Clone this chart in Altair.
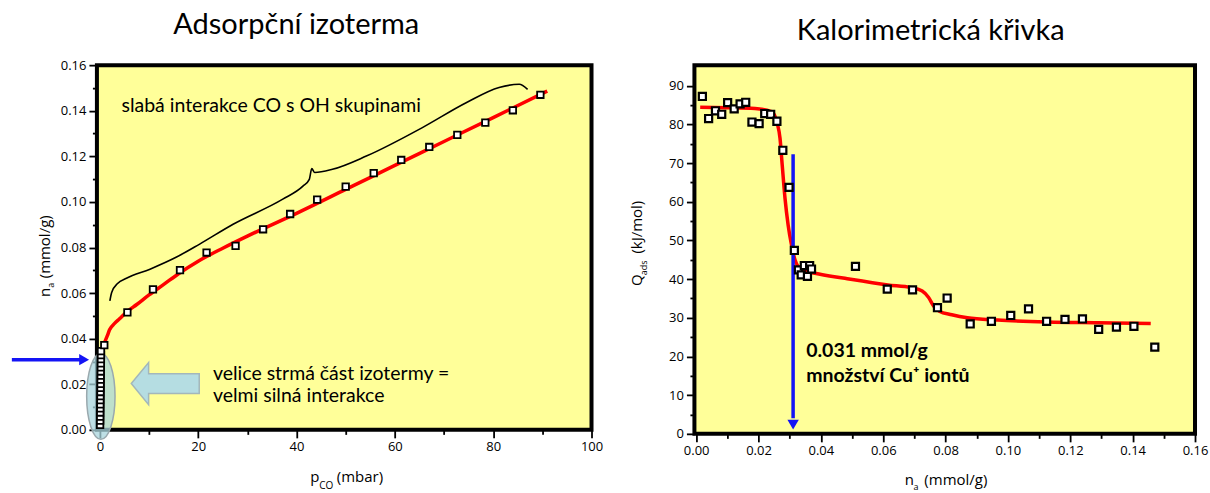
import altair as alt
import pandas as pd

# ---------------- Left panel: adsorption isotherm ----------------
iso_low_x = [0.05, 0.06, 0.07, 0.08, 0.09, 0.10, 0.11, 0.12, 0.13, 0.14,
             0.15, 0.16, 0.17, 0.18, 0.19, 0.20, 0.21, 0.22, 0.23]
iso_low_y = [0.0022, 0.0040, 0.0058, 0.0076, 0.0094, 0.0112, 0.0130, 0.0148,
             0.0166, 0.0184, 0.0202, 0.0220, 0.0238, 0.0256, 0.0274, 0.0292,
             0.0310, 0.0328, 0.0345]
iso_x = [0.9, 5.6, 10.8, 16.3, 21.7, 27.6, 33.2, 38.7, 44.2, 50.0, 55.7,
         61.3, 67.0, 72.7, 78.4, 84.0, 89.6]
iso_y = [0.0372, 0.0515, 0.0616, 0.0701, 0.0778, 0.0807, 0.0880, 0.0947,
         0.1010, 0.1067, 0.1126, 0.1184, 0.1241, 0.1294, 0.1348, 0.1402, 0.1470]
isofit_x = [0.5, 1.0, 1.5, 2.0, 3.0, 4.0, 5.5, 7.5, 10, 13, 16, 20, 25, 30,
            40, 50, 60, 70, 80, 91]
isofit_y = [0.0350, 0.0385, 0.0412, 0.0440, 0.0467, 0.0487, 0.0518, 0.0550,
            0.0592, 0.0638, 0.0685, 0.0740, 0.0797, 0.0850, 0.0950, 0.1055,
            0.1160, 0.1265, 0.1370, 0.1486]
brace_x = [2.03, 2.4, 3.6, 5.4, 10.2, 15.6, 20.3, 27.1, 37.2, 41.3, 42.6,
           43.1, 43.7, 47.3, 54.2, 65.6, 74.5, 81.2, 85.3, 87.0]
brace_y = [0.0566, 0.0603, 0.0642, 0.0665, 0.0705, 0.0758, 0.0815, 0.0902,
           0.1012, 0.1069, 0.1099, 0.1146, 0.1129, 0.1143, 0.1201, 0.1326,
           0.1435, 0.1502, 0.1516, 0.1494]
iso_x_ticks = [0, 10, 20, 30, 40, 50, 60, 70, 80, 90, 100]
iso_y_ticks = [0.00, 0.01, 0.02, 0.03, 0.04, 0.05, 0.06, 0.07, 0.08, 0.09,
               0.10, 0.11, 0.12, 0.13, 0.14, 0.15, 0.16]

# ---------------- Right panel: calorimetric curve ----------------
cal_x = [0.0020, 0.0040, 0.0062, 0.0082, 0.0101, 0.0122, 0.0141, 0.0159,
         0.0179, 0.0202, 0.0220, 0.0239, 0.0259, 0.0278, 0.0298, 0.0315,
         0.0328, 0.0337, 0.0347, 0.0357, 0.0364, 0.0370, 0.0511, 0.0613,
         0.0694, 0.0774, 0.0805, 0.0879, 0.0947, 0.1009, 0.1066, 0.1124,
         0.1183, 0.1239, 0.1291, 0.1348, 0.1404, 0.1471]
cal_y = [87.2, 81.5, 83.5, 82.6, 85.6, 84.0, 85.3, 85.7, 80.6, 80.2, 82.8,
         82.6, 80.8, 73.3, 63.7, 47.4, 42.4, 41.1, 43.5, 40.7, 43.5, 42.6,
         43.3, 37.4, 37.2, 32.6, 35.1, 28.4, 29.1, 30.6, 32.3, 29.1, 29.6,
         29.7, 27.0, 27.6, 27.8, 22.4]
calfit_x = [0.0013, 0.0100, 0.0189, 0.0242, 0.0260, 0.0269, 0.0276, 0.0285,
            0.0295, 0.0306, 0.0317, 0.0338, 0.0381, 0.0477, 0.0615, 0.0690,
            0.0725, 0.0745, 0.0762, 0.0780, 0.0820, 0.0870, 0.0967, 0.1127,
            0.1287, 0.1458]
calfit_y = [84.4, 84.3, 84.1, 83.3, 80.3, 76.4, 69.5, 60.9, 54.0, 48.8,
            45.0, 42.4, 41.5, 40.2, 38.5, 37.8, 36.9, 35.3, 33.0, 31.7,
            30.8, 30.0, 29.4, 28.9, 28.7, 28.5]
cu_amount = 0.0311
cal_x_ticks = [0.00, 0.01, 0.02, 0.03, 0.04, 0.05, 0.06, 0.07, 0.08, 0.09,
               0.10, 0.11, 0.12, 0.13, 0.14, 0.15, 0.16]
cal_y_ticks = [0, 5, 10, 15, 20, 25, 30, 35, 40, 45, 50, 55, 60, 65, 70,
               75, 80, 85, 90]

LABEL_FONT = "Open Sans"
TEXT_FONT = "Lato"
RED = "#ff0000"
BLUE = "#1414f5"


def make_axis(values, test, fmt):
    return alt.Axis(
        values=values,
        labelExpr=f"({test}) ? format(datum.value, '{fmt}') : ''",
        tickSize={"condition": {"test": test, "value": 8}, "value": 4.5},
        tickWidth=1.8, tickColor="black", domain=False, grid=False,
        labelFont=LABEL_FONT, labelFontSize=13, labelColor="black",
        labelPadding=3, labelFlush=False, labelOverlap=False, title=None)


ax_lx = make_axis(iso_x_ticks, "datum.value % 20 == 0", "d")
ax_ly = make_axis(iso_y_ticks, "abs(datum.value*50 - round(datum.value*50)) < 0.001", ".2f")
ax_rx = make_axis(cal_x_ticks, "abs(datum.value*50 - round(datum.value*50)) < 0.001", ".2f")
ax_ry = make_axis(cal_y_ticks, "datum.value % 10 == 0", "d")

sx_l = alt.Scale(domain=[-0.6, 100], nice=False, zero=False)
sy_l = alt.Scale(domain=[0, 0.16], nice=False, zero=False)
sx_r = alt.Scale(domain=[-0.00055, 0.16], nice=False, zero=False)
sy_r = alt.Scale(domain=[0, 95.3], nice=False, zero=False)


def XL(f="x"):
    return alt.X(f"{f}:Q", scale=sx_l, axis=ax_lx, title=None)


def YL(f="y"):
    return alt.Y(f"{f}:Q", scale=sy_l, axis=ax_ly, title=None)


def XR(f="x"):
    return alt.X(f"{f}:Q", scale=sx_r, axis=ax_rx, title=None)


def YR(f="y"):
    return alt.Y(f"{f}:Q", scale=sy_r, axis=ax_ry, title=None)


def pts(xs, ys):
    return pd.DataFrame({"x": xs, "y": ys, "i": list(range(len(xs)))})


# ----- left layers -----
ellipse_shape = "M 0 -1 A 0.33 1 0 1 1 0 1 A 0.33 1 0 1 1 0 -1 Z"
block_arrow = ("M -1 0 L -0.49 -0.62 L -0.49 -0.29 L 1 -0.29 L 1 0.29 "
               "L -0.49 0.29 L -0.49 0.62 Z")

ellipse = alt.Chart(pts([0.2], [0.0147])).mark_point(
    shape=ellipse_shape, size=7396, filled=True, fill="#a8d4dc",
    fillOpacity=0.75, stroke="#9aa9ae", strokeWidth=1.5, opacity=1
).encode(x=XL(), y=YL())

big_arrow = alt.Chart(pts([13.3], [0.0203])).mark_point(
    shape=block_arrow, size=4624, filled=True, fill="#b5dde2",
    fillOpacity=1, stroke="#a3b7bb", strokeWidth=1.5, opacity=1
).encode(x=XL(), y=YL())

iso_fit = alt.Chart(pts(isofit_x, isofit_y)).mark_line(
    color=RED, strokeWidth=3.5, interpolate="monotone"
).encode(x=XL(), y=YL(), order="i:Q")

brace = alt.Chart(pts(brace_x, brace_y)).mark_line(
    color="black", strokeWidth=1.6, interpolate="monotone"
).encode(x=XL(), y=YL(), order="i:Q")

sq = dict(shape="square", size=42, filled=True, fill="white", stroke="black",
          strokeWidth=1.8, opacity=1)
iso_low = alt.Chart(pts(iso_low_x, iso_low_y)).mark_point(**sq).encode(x=XL(), y=YL())
iso_pts = alt.Chart(pts(iso_x, iso_y)).mark_point(**sq).encode(x=XL(), y=YL())

blue_l = alt.Chart(pd.DataFrame({"x": [-17.9], "x2": [-3.6], "y": [0.0308]})).mark_rule(
    color=BLUE, strokeWidth=3.5).encode(x=XL(), x2="x2:Q", y=YL())
blue_l_head = alt.Chart(pts([-3.2], [0.0308])).mark_point(
    shape="triangle-right", size=130, filled=True, color=BLUE, opacity=1
).encode(x=XL(), y=YL())

ann_l = pd.DataFrame({
    "x": [4.4, 23.0, 23.0],
    "y": [0.1420, 0.0245, 0.0150],
    "t": ["slabá interakce CO s OH skupinami", "velice strmá část izotermy =",
          "velmi silná interakce"]})
ann_l_txt = alt.Chart(ann_l).mark_text(
    align="left", baseline="middle", font=TEXT_FONT, fontSize=19.5, color="black"
).encode(x=XL(), y=YL(), text="t:N")

ttl_lx = pd.DataFrame({"x": [42.8, 48.2], "y": [-0.0228, -0.0228], "t": ["p", "(mbar)"]})
ttl_lx_txt = alt.Chart(ttl_lx).mark_text(
    align="left", baseline="alphabetic", font=LABEL_FONT, fontSize=15, color="black"
).encode(x=XL(), y=YL(), text="t:N")
ttl_lx_sub = alt.Chart(pd.DataFrame({"x": [44.6], "y": [-0.0258], "t": ["CO"]})).mark_text(
    align="left", baseline="alphabetic", font=LABEL_FONT, fontSize=10, color="black"
).encode(x=XL(), y=YL(), text="t:N")

ttl_ly = pd.DataFrame({"x": [-10.1, -10.1], "y": [0.0583, 0.0665], "t": ["n", "(mmol/g)"]})
ttl_ly_txt = alt.Chart(ttl_ly).mark_text(
    align="left", baseline="alphabetic", angle=270, font=LABEL_FONT, fontSize=15,
    color="black").encode(x=XL(), y=YL(), text="t:N")
ttl_ly_sub = alt.Chart(pd.DataFrame({"x": [-9.3], "y": [0.0623], "t": ["a"]})).mark_text(
    align="left", baseline="alphabetic", angle=270, font=LABEL_FONT, fontSize=9,
    color="black").encode(x=XL(), y=YL(), text="t:N")

left = alt.layer(
    ellipse, big_arrow, iso_fit, brace, iso_low, iso_pts, blue_l, blue_l_head,
    ann_l_txt, ttl_lx_txt, ttl_lx_sub, ttl_ly_txt, ttl_ly_sub
).properties(
    width=495, height=365,
    title=alt.TitleParams(text="Adsorpční izoterma", font=TEXT_FONT, fontSize=29,
                          fontWeight="normal", color="black", anchor="middle",
                          frame="group", dx=-48, offset=19))

# ----- right layers -----
cal_fit = alt.Chart(pts(calfit_x, calfit_y)).mark_line(
    color=RED, strokeWidth=3.5, interpolate="monotone"
).encode(x=XR(), y=YR(), order="i:Q")

blue_r = alt.Chart(pd.DataFrame({"x": [cu_amount], "y": [72.3], "y2": [4.0]})).mark_rule(
    color=BLUE, strokeWidth=3.5).encode(x=XR(), y=YR(), y2="y2:Q")
blue_r_head = alt.Chart(pts([cu_amount], [2.4])).mark_point(
    shape="triangle-down", size=130, filled=True, color=BLUE, opacity=1
).encode(x=XR(), y=YR())

cal_pts = alt.Chart(pts(cal_x, cal_y)).mark_point(
    shape="square", size=50, filled=True, fill="white", stroke="black",
    strokeWidth=2.2, opacity=1).encode(x=XR(), y=YR())

ann_r = pd.DataFrame({"x": [0.0353, 0.0353], "y": [21.4, 14.9],
                      "t": ["0.031 mmol/g", "množství Cu⁺ iontů"]})
ann_r_txt = alt.Chart(ann_r).mark_text(
    align="left", baseline="middle", font=TEXT_FONT, fontSize=19.5, fontWeight="bold",
    color="black").encode(x=XR(), y=YR(), text="t:N")

ttl_rx = pd.DataFrame({"x": [0.0669, 0.0732], "y": [-13.2, -13.2], "t": ["n", "(mmol/g)"]})
ttl_rx_txt = alt.Chart(ttl_rx).mark_text(
    align="left", baseline="alphabetic", font=LABEL_FONT, fontSize=15, color="black"
).encode(x=XR(), y=YR(), text="t:N")
ttl_rx_sub = alt.Chart(pd.DataFrame({"x": [0.0697], "y": [-14.4], "t": ["a"]})).mark_text(
    align="left", baseline="alphabetic", font=LABEL_FONT, fontSize=9, color="black"
).encode(x=XR(), y=YR(), text="t:N")

ttl_ry = pd.DataFrame({"x": [-0.0175, -0.0175], "y": [38.2, 46.6], "t": ["Q", "(kJ/mol)"]})
ttl_ry_txt = alt.Chart(ttl_ry).mark_text(
    align="left", baseline="alphabetic", angle=270, font=LABEL_FONT, fontSize=15,
    color="black").encode(x=XR(), y=YR(), text="t:N")
ttl_ry_sub = alt.Chart(pd.DataFrame({"x": [-0.0159], "y": [41.0], "t": ["ads"]})).mark_text(
    align="left", baseline="alphabetic", angle=270, font=LABEL_FONT, fontSize=9,
    color="black").encode(x=XR(), y=YR(), text="t:N")

right = alt.layer(
    cal_fit, blue_r, blue_r_head, cal_pts, ann_r_txt, ttl_rx_txt, ttl_rx_sub,
    ttl_ry_txt, ttl_ry_sub
).properties(
    width=501, height=369,
    title=alt.TitleParams(text="Kalorimetrická křivka", font=TEXT_FONT, fontSize=29,
                          fontWeight="normal", color="black", anchor="middle",
                          frame="group", dx=-14, offset=19))

chart = alt.hconcat(left, right, spacing=22).properties(
    padding={"left": 8, "top": 9, "right": 0, "bottom": 0},
    background="white"
).configure_view(fill="#ffff99", stroke="black", strokeWidth=4)

chart.save("out.html", embed_options={"renderer": "svg", "actions": False})
